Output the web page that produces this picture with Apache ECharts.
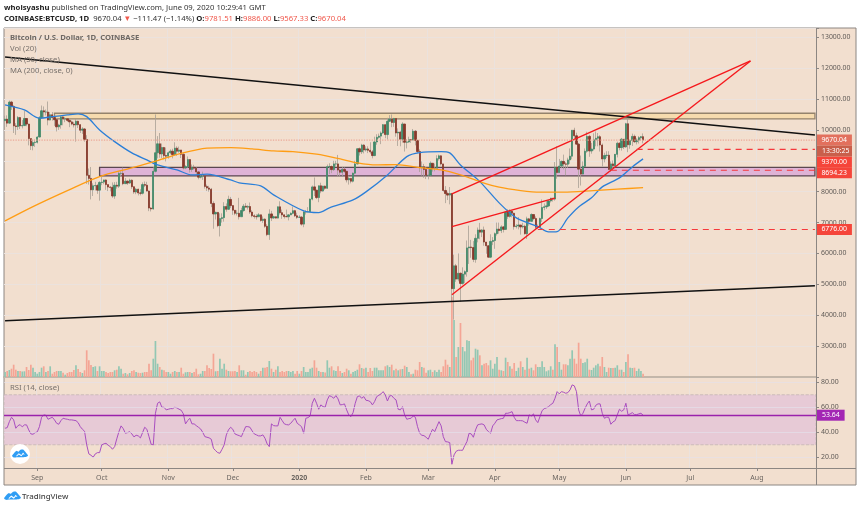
<!DOCTYPE html>
<html>
<head>
<meta charset="utf-8">
<title>BTCUSD</title>
<script src="https://cdn.jsdelivr.net/npm/echarts@6/dist/echarts.min.js"></script>
<style>
  html, body { margin: 0; padding: 0; background: #fff; }
  #main { width: 860px; height: 509px; }
</style>
</head>
<body>
<div id="main"></div>
<script>
// daily closes, Aug 17 2019 -> Jun 9 2020
var closes = [
  10350,10220,10900,10760,10130,10110,10400,10130,10140,10370,10190,9720,9490,9590,9600,
  9770,10390,10620,10580,10580,10320,10490,10400,10330,10100,10160,10420,10360,10360,10310,10260,10190,10160,10280,10170,9990,10030,9690,8530,8430,8060,8190,8200,8050,8300,
  8310,8380,8230,8150,8140,7860,8210,8180,8590,8590,8260,8340,8280,8370,8160,7990,8080,7960,7950,8230,8210,8020,7470,7440,8660,9260,9550,9220,9430,9170,9150,
  9260,9310,9200,9410,9310,9350,9210,8770,8810,9040,8720,8790,8760,8640,8470,8500,8500,8170,8120,8080,7620,7280,7330,6900,7130,7160,7520,7430,7750,7550,
  7400,7300,7300,7190,7390,7530,7500,7520,7340,7220,7200,7190,7250,7070,7110,6880,6610,7280,7150,7190,7145,7510,7320,7250,7195,7190,7250,7300,7385,7220,7170,
  7175,6950,7340,7350,7350,7760,8155,8050,7810,8190,8020,8180,8110,8810,8815,8715,8900,8900,8700,8630,8725,8660,8385,8430,8340,8600,8900,9390,9290,9510,9350,
  9385,9340,9290,9170,9610,9760,9800,9900,10170,9850,10280,10350,10240,10370,9900,9930,9700,10190,9600,9610,9690,9670,9960,9660,9300,8780,8810,8720,8530,
  8530,8920,8760,8760,9070,9160,8900,8040,7940,7890,7940,4860,5600,5170,5360,5030,5330,5410,6180,6210,6190,5810,6490,6760,6690,6760,6370,6250,5880,6390,6420,
  6640,6790,6740,6860,6780,7340,7200,7370,7300,6870,6890,6920,6860,6880,6640,7120,7040,7260,7130,6850,6850,7130,7490,7510,7540,7700,7790,7760,8790,8620,
  8830,8980,8900,8890,9030,9150,9990,9810,9540,8730,8570,8820,9310,9790,9320,9380,9680,9730,9780,9510,9060,9170,9180,8720,8900,8840,9210,9570,9430,9700,9450,
  10200,9520,9660,9790,9620,9670,9750,9781.51,9670.04
];
var highs = [
  10460,10470,10950,10940,10800,10220,10450,10420,10320,10620,10380,10200,9720,9690,9690,
  9800,10450,10790,10760,10660,10920,10580,10580,10460,10380,10200,10450,10440,10420,10370,10380,10300,10260,10350,10300,10180,10090,10060,9830,8750,8800,8270,8320,8250,8340,
  8510,8390,8400,8210,8180,8300,8310,8320,8660,8660,8780,8440,8370,8420,8400,8170,8120,8100,8080,8300,8330,8320,8040,7500,8790,10500,9800,9900,9560,9450,9430,
  9300,9370,9390,9600,9470,9460,9350,9240,8860,9140,9050,8880,8870,8790,8660,8530,8650,8510,8230,8190,8120,7690,7350,7340,7300,7300,7660,7620,7870,7830,
  7550,7400,7400,7800,7480,7600,7630,7560,7650,7400,7270,7270,7310,7260,7200,7140,6950,7430,7380,7220,7190,7520,7690,7420,7260,7420,7270,7330,7520,7410,7320,
  7240,7210,7410,7400,7500,7780,8200,8460,8050,8200,8290,8190,8200,8880,8920,8850,9000,9000,9190,8750,8800,8790,8670,8520,8430,8620,9000,9400,9430,9550,9540,
  9470,9470,9600,9350,9780,9860,9880,9950,10190,10180,10390,10480,10500,10390,10380,10050,9970,10250,10200,9700,9780,9690,10030,9990,9680,9370,8980,8900,8790,
  8750,8980,8920,8910,9180,9200,9180,8190,8180,8000,8150,7960,5960,5660,6000,5380,5550,5450,6420,6900,6440,6400,6620,6840,6990,6790,6870,6270,6250,6620,6530,
  6680,7000,7000,6910,6880,7350,7430,7430,7380,7320,6950,7180,6920,6990,6930,7190,7150,7300,7240,7200,6940,7160,7750,7620,7700,7720,7800,7790,8960,9470,
  9060,9010,9200,8960,9100,9400,9990,10070,9910,9580,9170,8980,9400,9940,9840,9580,9890,9950,9900,9830,9560,9260,9310,9310,8980,9010,9220,9620,9600,9740,9700,
  10230,10400,9680,9880,9850,9730,9800,9800,9886
];
var lows = [
  10000,10100,10200,10650,9900,9840,10000,10030,10050,10130,10120,9500,9350,9340,9450,
  9560,9760,10360,10380,10470,10150,10310,10300,10130,9950,10000,10040,10150,10250,10260,10090,10150,10080,9620,10060,9900,9870,9620,8250,8230,7750,7860,8040,7930,7710,
  8210,8240,8060,8020,8010,7800,7770,8100,8120,8480,8210,8250,8220,8250,8090,7930,7920,7880,7880,7910,8150,8010,7370,7360,7420,8620,9080,9100,9090,9050,8980,
  9070,9210,9080,9170,9160,9260,9090,8720,8730,8770,8620,8640,8710,8570,8400,8430,8380,8100,8020,8000,7500,6800,7100,6850,6550,7000,7030,7350,7420,7470,
  7250,7240,7230,7100,7300,7350,7490,7420,7280,7170,7130,7100,7220,7030,6990,6830,6560,6440,7050,7120,7130,7140,7260,7120,7130,7180,7070,7240,7270,7180,7120,
  7150,6900,6850,7260,7330,7340,7720,7860,7760,7660,7950,8000,8060,8100,8570,8600,8670,8800,8500,8500,8500,8610,8300,8230,8270,8300,8560,8880,9170,9220,9240,
  9300,9250,9230,9080,9150,9520,9720,9540,9870,9730,9690,10260,10090,10100,9780,9480,9470,9590,9300,9400,9580,9580,9670,9500,9250,8640,8520,8450,8410,
  8400,8500,8650,8660,8760,9010,8850,8000,7630,7730,7590,4440,3858,5080,5100,4440,4990,5040,5250,5660,5860,5720,5700,6360,6460,6530,6250,5990,5860,5850,6270,
  6150,6580,6640,6660,6680,6770,7120,7160,7170,6770,6810,6780,6610,6810,6610,6470,6900,7040,7080,6780,6800,6830,7020,7400,7440,7510,7650,7680,7710,8420,
  8620,8760,8720,8530,8770,8900,9050,9710,9520,8120,8200,8560,8800,9260,9130,9230,9330,9470,9470,9300,8820,8950,9090,8700,8640,8700,8810,9110,9340,9330,9380,
  9420,9280,9390,9480,9580,9530,9560,9650,9567.33
];
// volume in thousands of BTC
var volumes = [
  5,6,7,8.3,12.3,7.3,6,6,5.5,5.7,10,7,12.3,9.3,5,
  3.3,5,9.3,10.7,5,6,10.7,3.3,5,6,6,6,4.3,2.3,4,5,5,7,11.7,8,5,4,6.7,26.7,16.7,12,10,10.7,6,10.7,
  6,6,5,4,5,5,6.7,7.3,10.7,8.3,3.3,4,2.7,4,6,6.7,5,4.3,4,4.3,5,5,13.3,6.7,18.3,36,13.3,10,7.3,6.7,5,
  5,3.3,5,6,5,5,9.3,3.3,4.7,5,5,4,5,8.3,2.7,3.3,6,6,11.7,9,8,23.3,5.7,6,18.3,8.3,13.3,7.3,6,5.7,
  5.7,6,5,11.7,6.7,6.7,2.3,5,6,5,6,5,3.3,6,9.3,9.3,10,16,8.3,5,7.3,10.7,5,6,5,6,6,5,6,3.3,6,
  3.3,6,10,5,5,8.3,9.3,16.7,9.3,6,5,5,4.5,16.7,9.3,10.7,6.7,6,10.7,6,4,5,8.3,6.7,3.3,5,6,7.3,12.7,9,8.3,
  9.3,5,9,6,9.3,9.3,6.7,6.7,6.7,10.7,11.7,10,12.3,6.7,8.3,6.7,7.7,8,11.3,10,5,2.7,3.3,7.3,6.7,15,10,9.3,4.3,
  6.7,7.3,5,6.7,5,7.3,5,10.7,17.3,12.3,10,80,57,20,30,54,30,25.7,36.7,36,16.7,19.3,28.3,27.3,21.7,11.7,13.3,14,11.7,16.7,8.3,
  13.3,20,7.3,6.7,6,19.3,15,10.7,8.3,14,6,9.3,15.7,10,7.3,19.3,8.3,9.3,6.7,12.7,10,10,15.7,10,5.7,6.7,10.7,7.3,32.7,30,
  15,7.3,12.7,12.7,11.7,18.3,26.7,18.3,13.3,34.3,18.3,14,14.7,18.3,7.3,7,9.3,11.7,13.3,10.7,20,10,5,9.3,9,9,9.3,11.7,7.3,7.3,5,
  15,22.7,9.3,9,9.3,6,8.3,6,3.3
];
var rsiValues = [
  43.2,43.7,48.5,52,49.9,43.2,45.3,46.1,44.3,45.9,45.9,41.9,38.7,38.4,39.7,
  40.3,44.5,52,53.9,53.6,50.4,51.2,52,49.9,47.2,46.4,49.3,51.2,50.7,50.4,49.9,49.9,49.6,49.3,47.7,44.5,42.4,40.8,29.9,22.7,21.6,20,22.7,23.7,23.7,
  29.9,30.7,31.2,29.6,28.5,26.4,28.5,34.7,40.5,45.1,42.9,39.2,39.7,40.5,38.7,36.3,37.6,37.1,35.5,39.7,44,42.4,36.5,30.4,29.9,55.2,63.2,64.3,60,60,57.9,
  58.4,58.9,58.9,60,59.5,58.4,57.6,54.7,46.7,49.3,51.2,46.7,46.7,45.3,44,42.7,40,36.5,36,35.5,34.4,27.2,25.3,23.7,23.2,26.4,29.9,37.9,41.9,44,
  42.4,38.7,37.9,37.3,36.5,40.5,44.5,44.5,44,41.1,38.7,37.9,37.1,37.1,37.9,35.2,30.7,28.5,46.7,45.3,45.1,45.1,52,49.3,46.7,46.1,45.9,47.2,49.3,51.2,47.2,
  45.9,44.5,39.2,51.2,51.7,53,63.2,67.2,63.2,58.4,61.9,60.5,60,65.9,69.3,68.5,67.2,69.3,66.7,61.9,62.1,62.7,57.9,53.9,52.5,55.7,63.2,68.5,69.1,67.2,68.5,
  65.6,65.3,64.5,61.9,64.5,68.5,69.6,70.7,72.5,69.9,65,69.1,69.3,67.2,65.9,58.4,57.9,60.5,53.9,50.4,50.9,51.2,53,52,44.5,39.2,37.6,37.3,36,
  34.4,38.7,42.4,40.5,44.5,48.5,45.1,36.5,32.5,32.3,31.7,14.4,21.9,24.8,25.6,25.6,25.6,29.3,32.5,39.2,38.7,36,41.9,45.9,46.4,46.7,45.9,42.4,40.5,39.2,45.1,
  47.2,49.9,50.4,50.9,51.2,55.2,55.2,55.7,56.5,52,49.3,49.3,49.3,49.1,48,47.2,53.9,53,54.7,49.9,47.7,52.5,57.3,58.9,59.5,60.5,62.1,63.2,67.2,72.5,
  70.7,72.5,72,71.2,71.7,73.9,77.9,77.1,72.5,57.9,53,55.2,59.2,62.7,65,57.9,58.4,61.6,62.7,62.7,55.2,51.2,52,52,46.4,48.3,49.3,53.9,58.4,56.8,57.9,
  63.2,53.9,54.7,55.7,54.1,54.1,54.7,55.2,53.64
];
// moving averages
var ma50Dates = ['2019-08-17','2019-08-26','2019-09-02','2019-09-08','2019-09-15','2019-09-20','2019-09-24','2019-09-30','2019-10-07','2019-10-15','2019-10-22','2019-10-27','2019-11-05','2019-11-12','2019-11-19','2019-11-30','2019-12-04','2019-12-14','2019-12-20','2020-01-03','2020-01-10','2020-01-15','2020-01-26','2020-02-01','2020-02-11','2020-02-20','2020-02-26','2020-03-07','2020-03-11','2020-03-16','2020-03-25','2020-04-03','2020-04-11','2020-04-21','2020-04-26','2020-04-30','2020-05-05','2020-05-10','2020-05-16','2020-05-21','2020-05-29','2020-06-04','2020-06-09'];
var ma50Values = [10809,10647,10379,10430,10485,10518,10430,10000,9621,9256,9029,8867,8706,8544,8566,8382,8285,8188,7897,7379,7324,7476,7735,7994,8544,9136,9265,9298,9256,8867,8327,7638,7152,6871,6699,6709,7152,7508,7800,8155,8447,8803,9062];
var ma200Dates = ['2019-08-17','2019-08-30','2019-09-15','2019-09-30','2019-10-15','2019-10-27','2019-11-06','2019-11-19','2019-11-30','2019-12-10','2019-12-20','2019-12-29','2020-01-09','2020-01-20','2020-01-28','2020-02-06','2020-02-15','2020-02-26','2020-03-07','2020-03-16','2020-03-25','2020-04-03','2020-04-13','2020-04-22','2020-05-03','2020-05-17','2020-05-28','2020-06-09'];
var ma200Values = [7055,7518,8036,8489,8770,9007,9223,9408,9427,9385,9320,9298,9214,9062,8932,8867,8877,8780,8706,8544,8327,8146,8036,7984,7984,8036,8081,8133];
// drawn lines: [date, price] pairs
var blackLines = [
  [['2019-08-17',12362],['2020-08-28',9838]],
  [['2019-08-17',3819],['2020-08-28',4952]]
];
var redLines = [
  [['2020-03-12',7929],['2020-07-29',12233]],
  [['2020-03-12',4661],['2020-07-29',12233]],
  [['2020-03-12',6871],['2020-04-29',7790]]
];
var dashedLevels = [9370, 8694.23, 6776];
var dashedStarts = ['2020-06-06','2020-05-25','2020-04-21'];
var zoneOrange = ['2019-09-09', 10356, 10540];
var zonePurple = ['2019-09-30', 8510, 8785];
var lastClose = 9670.04;
var lastRsi = 53.64;
var rsiTicks = [20, 40, 60, 80];
var monthNames = ['Jan','Feb','Mar','Apr','May','Jun','Jul','Aug','Sep','Oct','Nov','Dec'];

var dates = [];
for (var d = 0; d < 378; d++) {
  dates.push(new Date(Date.UTC(2019, 7, 17 + d)).toISOString().slice(0, 10));
}
var lastDate = dates[dates.length - 1];

var opens = closes.map(function (c, i) { return i === 0 ? 10300 : closes[i - 1]; });
var wickData = closes.map(function (c, i) { return [opens[i], c, lows[i], highs[i]]; });
var bodyData = closes.map(function (c, i) {
  return [opens[i], c, Math.min(opens[i], c), Math.max(opens[i], c)];
});
var volumeData = volumes.map(function (v, i) {
  return { value: v, itemStyle: { color: closes[i] >= opens[i] ? '#92c7b3' : '#f4a595' } };
});
function pairs(xs, ys) { return xs.map(function (x, i) { return [x, ys[i]]; }); }
function isMonthStart(index, value) { return value.slice(8) === '01'; }

var gridLine = { show: true, interval: isMonthStart, lineStyle: { color: '#ebe2dd', width: 1 } };
var tagFont = { show: true, color: '#fff', fontSize: 6.9, fontFamily: 'Noto Sans', distance: 1.5, padding: [2, 5, 2, 5] };

var chart = echarts.init(document.getElementById('main'));

var series = [
  {
    name: 'zones', type: 'line', xAxisIndex: 0, yAxisIndex: 0, data: [], z: 1, silent: true,
    markArea: {
      silent: true,
      data: [
        [{ xAxis: zoneOrange[0], yAxis: zoneOrange[2], itemStyle: { color: '#f6dbae', borderColor: '#94836c', borderWidth: 1.3 } }, { xAxis: lastDate, yAxis: zoneOrange[1] }],
        [{ xAxis: zonePurple[0], yAxis: zonePurple[2], itemStyle: { color: '#dfb3d6', borderColor: '#5a4750', borderWidth: 1.3 } }, { xAxis: lastDate, yAxis: zonePurple[1] }]
      ]
    }
  },
  {
    name: 'Vol', type: 'bar', xAxisIndex: 0, yAxisIndex: 1, data: volumeData, barWidth: 1.7, z: 2, silent: true
  },
  {
    name: 'wicks', type: 'candlestick', xAxisIndex: 0, yAxisIndex: 0, data: wickData, barWidth: 1, z: 3, silent: true,
    itemStyle: { color: '#a89f95', color0: '#a89f95', borderColor: '#a89f95', borderColor0: '#a89f95', borderWidth: 0.8 }
  },
  {
    name: 'BTCUSD', type: 'candlestick', xAxisIndex: 0, yAxisIndex: 0, data: bodyData, barWidth: 1.8, z: 4, silent: true,
    itemStyle: { color: '#42896a', color0: '#86382b', borderColor: '#42896a', borderColor0: '#86382b', borderWidth: 0.8 }
  },
  {
    name: 'MA 50', type: 'line', xAxisIndex: 0, yAxisIndex: 0, data: pairs(ma50Dates, ma50Values), smooth: 0.3, showSymbol: false, z: 5,
    lineStyle: { color: '#2b7fd8', width: 1.3 }, silent: true
  },
  {
    name: 'MA 200', type: 'line', xAxisIndex: 0, yAxisIndex: 0, data: pairs(ma200Dates, ma200Values), smooth: 0.3, showSymbol: false, z: 5,
    lineStyle: { color: '#ff9d14', width: 1.3 }, silent: true
  }
];

blackLines.forEach(function (l) {
  series.push({ type: 'line', xAxisIndex: 0, yAxisIndex: 0, data: l, showSymbol: false, z: 6, silent: true, lineStyle: { color: '#111', width: 1.5 } });
});
redLines.forEach(function (l) {
  series.push({ type: 'line', xAxisIndex: 0, yAxisIndex: 0, data: l, showSymbol: false, z: 7, silent: true, lineStyle: { color: '#f5181c', width: 1.4 } });
});

// last price dotted line, tag on the axis
series.push({
  name: 'last', type: 'line', xAxisIndex: 0, yAxisIndex: 0, showSymbol: false, z: 8, silent: true,
  data: [[dates[0], lastClose], [lastDate, lastClose]],
  lineStyle: { color: '#eba999', type: 'dotted', width: 1.3 },
  endLabel: Object.assign({}, tagFont, { formatter: lastClose.toFixed(2), backgroundColor: '#e2705d' })
});
// dashed levels: TradingView pushes the 9370 tag below the countdown
var tagOffsets = [[0, 12.5], [0, 2.5], [0, 0]];
dashedLevels.forEach(function (v, i) {
  series.push({
    type: 'line', xAxisIndex: 0, yAxisIndex: 0, showSymbol: false, z: 8, silent: true,
    data: [[dashedStarts[i], v], [lastDate, v]],
    lineStyle: { color: '#f5383c', type: [6, 5], width: 1.1 },
    endLabel: Object.assign({}, tagFont, { formatter: v.toFixed(2), backgroundColor: '#f5453a', offset: tagOffsets[i] })
  });
});

// RSI pane
series.push({
  name: 'RSI', type: 'line', xAxisIndex: 1, yAxisIndex: 2, data: pairs(dates.slice(0, rsiValues.length), rsiValues),
  showSymbol: false, z: 4, silent: true, lineStyle: { color: '#a94ec0', width: 1 },
  markArea: {
    silent: true,
    data: [[{ yAxis: 70, itemStyle: { color: '#e7cad6', borderColor: '#c4b6b4', borderWidth: 0.8, borderType: 'dashed' } }, { yAxis: 30 }]]
  },
  markLine: {
    silent: true, symbol: 'none', animation: false,
    data: rsiTicks.map(function (v) {
      return { yAxis: v, lineStyle: { color: 'rgba(228,224,235,0.65)', type: 'solid', width: 1 }, label: { show: false } };
    }).concat([{ yAxis: lastRsi, lineStyle: { color: '#9a22ac', type: 'solid', width: 1.4 },
      label: Object.assign({}, tagFont, { position: 'end', formatter: lastRsi.toFixed(2), backgroundColor: '#a326b4', distance: 1 }) }])
  }
});

var frameColor = '#8c8682';
function label(x, y, text, extra) {
  return { type: 'text', x: x, y: y, z: 100, style: Object.assign({ text: text, fill: '#77706b', fontSize: 7.7, fontFamily: 'Noto Sans', verticalAlign: 'middle' }, extra || {}) };
}
var boldRich = { fontSize: 7.7, fontFamily: 'Noto Sans', fontWeight: 'bold', fill: '#222' };
var cloudShape = [[0,7.5],[3.5,3],[5.5,1.6],[7.5,2.6],[10,0.3],[13,0],[15,2],[19,7],[17,8.4],[13,9],[6,9],[2,9.3]];
var cloudGap = [[5,7.4],[8,4.4],[11,6.4],[13,3.6],[15,6.2],[13,5.6],[11,8],[8,6],[5.6,8.2]];
function cloud(x, y, s, gapColor) {
  function place(pts) { return pts.map(function (p) { return [x + p[0] * s, y + p[1] * s]; }); }
  return [
    { type: 'polygon', z: 101, shape: { points: place(cloudShape), smooth: 0.15 }, style: { fill: '#2f9df4' } },
    { type: 'polygon', z: 102, shape: { points: place(cloudGap) }, style: { fill: gapColor } }
  ];
}

var graphics = [
  { type: 'rect', z: -10, shape: { x: 4, y: 28, width: 852, height: 457 }, style: { fill: '#f2dfcf', stroke: frameColor, lineWidth: 1 } },
  { type: 'line', z: 90, shape: { x1: 816.5, y1: 28, x2: 816.5, y2: 485 }, style: { stroke: frameColor, lineWidth: 1 } },
  { type: 'line', z: 90, shape: { x1: 4, y1: 468.5, x2: 856, y2: 468.5 }, style: { stroke: frameColor, lineWidth: 1 } },
  label(4, 8, '{b|whoisyashu} published on TradingView.com, June 09, 2020 10:29:41 GMT', {
    fill: '#333', rich: { b: boldRich }
  }),
  label(4, 19, '{b|COINBASE:BTCUSD, 1D}  9670.04 {r|▼} −111.47 (−1.14%) {b|O:}{r|9781.51} {b|H:}{r|9886.00} {b|L:}{r|9567.33} {b|C:}{r|9670.04}', {
    fill: '#333', rich: { b: boldRich, r: { fill: '#f0584c', fontSize: 7.7, fontFamily: 'Noto Sans' } }
  }),
  label(10, 38, 'Bitcoin / U.S. Dollar, 1D, COINBASE', { fontWeight: 'bold', fill: '#6e6863' }),
  label(10, 49, 'Vol (20)'),
  label(10, 60, 'MA (50, close)'),
  label(10, 71, 'MA (200, close, 0)'),
  label(10, 388, 'RSI (14, close)'),
  { type: 'rect', z: 95, shape: { x: 817, y: 145.5, width: 35, height: 11 }, style: { fill: '#c95f4b' } },
  label(822, 151, '13:30:25', { fill: '#fff', fontSize: 6.9 }),
  // TradingView marks
  { type: 'circle', z: 100, shape: { cx: 20, cy: 454, r: 10 }, style: { fill: '#fff' } },
  label(22, 497, 'TradingView', { fontSize: 7.9, fontWeight: 500, fill: '#444' })
].concat(cloud(12, 449.5, 0.85, '#fff'), cloud(4, 491.5, 0.9, '#fff'));

chart.setOption({
  animation: false,
  backgroundColor: '#fff',
  textStyle: { fontFamily: 'Noto Sans' },
  graphic: { elements: graphics },
  grid: [
    { left: 4, right: 44, top: 28, height: 349 },
    { left: 4, right: 44, top: 378, height: 90 }
  ],
  xAxis: [
    {
      type: 'category', gridIndex: 0, data: dates,
      axisLabel: { show: false }, axisTick: { show: false },
      axisLine: { lineStyle: { color: '#b5a99c', width: 1.6 } },
      splitLine: gridLine
    },
    {
      type: 'category', gridIndex: 1, data: dates,
      axisLine: { show: false },
      axisTick: { show: true, interval: isMonthStart, alignWithLabel: true, length: 3, lineStyle: { color: frameColor } },
      splitLine: gridLine,
      axisLabel: {
        interval: isMonthStart, color: '#6b6560', fontSize: 7, margin: 6,
        formatter: function (value) {
          var m = +value.slice(5, 7) - 1;
          return m === 0 ? '{y|' + value.slice(0, 4) + '}' : monthNames[m];
        },
        rich: { y: { fontWeight: 'bold', fontSize: 7, color: '#6b6560' } }
      }
    }
  ],
  yAxis: [
    {
      type: 'value', gridIndex: 0, position: 'right', min: 2000, max: 13300, interval: 1000,
      axisLine: { show: false },
      axisTick: { show: true, length: 3, lineStyle: { color: frameColor } },
      splitLine: { show: true, lineStyle: { color: '#ebe2dd', width: 1 } },
      axisLabel: {
        color: '#5f5a56', fontSize: 6.9, margin: 5,
        formatter: function (v) { return v % 1000 === 0 && v > 2000 ? v.toFixed(2) : ''; }
      }
    },
    { type: 'value', gridIndex: 0, min: 0, max: 349, show: false, splitLine: { show: false } },
    {
      type: 'value', gridIndex: 1, position: 'right', min: 11.4, max: 83.4,
      axisLine: { show: false }, splitLine: { show: false },
      axisTick: { show: true, length: 3, customValues: rsiTicks, lineStyle: { color: frameColor } },
      axisLabel: { color: '#5f5a56', fontSize: 6.9, margin: 5, customValues: rsiTicks, formatter: function (v) { return v.toFixed(2); } }
    }
  ],
  series: series
});
</script>
</body>
</html>
